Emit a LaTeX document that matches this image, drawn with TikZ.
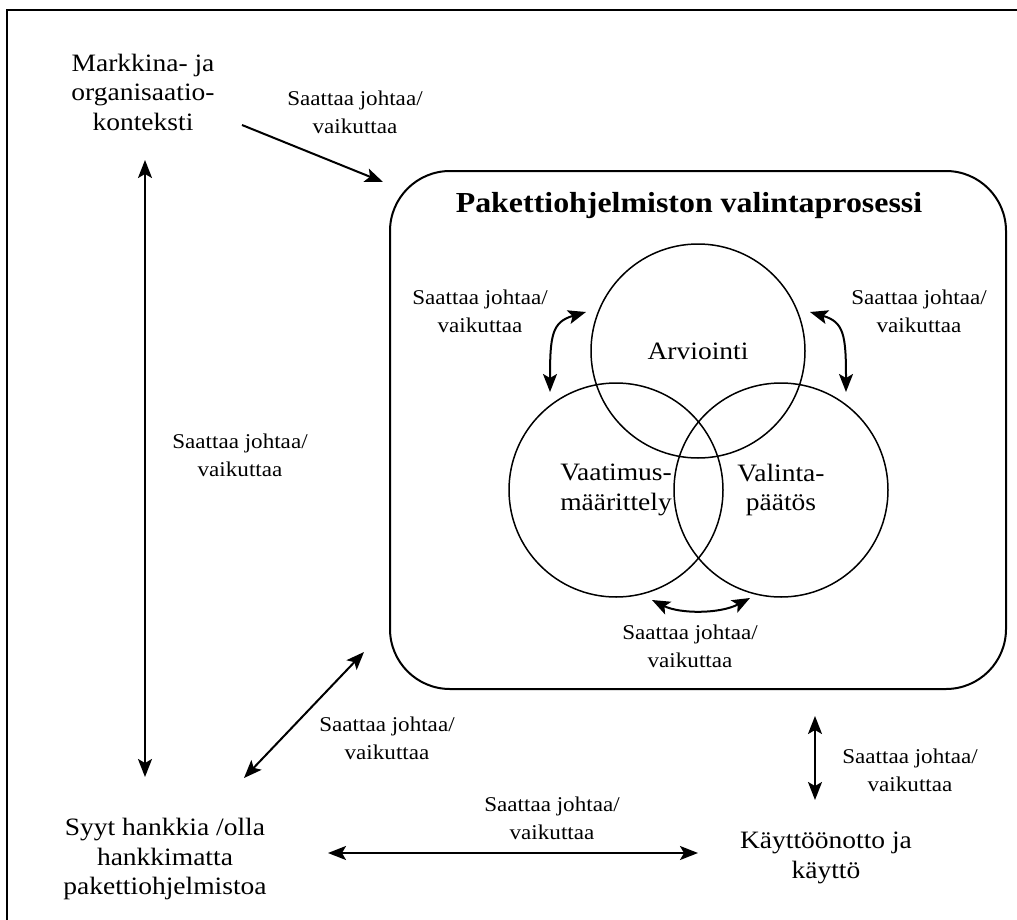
\documentclass[tikz,border=0pt]{standalone}
\usepackage{fontspec}
\setmainfont{Liberation Serif}[FakeStretch=1.1]
\usetikzlibrary{arrows.meta}

\begin{document}
\begin{tikzpicture}[x=0.5pt, y=-0.5pt,
    >={Stealth[length=9pt,width=7pt,inset=2pt]},
    conn/.style={line width=1pt},
    txt/.style={align=center, font=\fontsize{12.5}{14.75}\selectfont},
    lbl/.style={align=center, font=\fontsize{10.5}{14}\selectfont},
    phase/.style={circle, draw, line width=0.75pt, minimum size=107pt, inner sep=0pt, align=center, font=\fontsize{12.5}{14.75}\selectfont}]
    \useasboundingbox (0,0) rectangle (1017,920);
    \draw [line width=0.8pt] (7,930) -- (7,10) -- (1030,10);

    % valintaprosessi
    \node (proc) [draw, line width=1pt, rounded corners=30pt, minimum width=308pt, minimum height=259pt] at (698,430) {};
    \node (title) [anchor=base, font=\fontsize{14.5}{16}\selectfont\bfseries] at (689,212) {Pakettiohjelmiston valintaprosessi};
    \node (arv) [phase] at (698,351) {Arviointi};
    \node (vaat) [phase] at (616,490) {Vaatimus-\\määrittely};
    \node (vali) [phase] at (781,490) {Valinta-\\päätös};

    % ulkoiset tekijat
    \node (mark) [txt] at (143,92) {Markkina- ja\\organisaatio-\\konteksti};
    \node (syyt) [txt] at (165,859) {Syyt hankkia /olla\\hankkimatta\\pakettiohjelmistoa};
    \node (kaytto) [txt] at (826,858) {Käyttöönotto ja\\käyttö};

    % nuolten paat
    \coordinate (markOut) at (242,125);
    \coordinate (procIn) at (383,182);
    \coordinate (markDown) at (145,160);
    \coordinate (syytUp) at (145,777);
    \coordinate (procLow) at (364,652);
    \coordinate (syytRight) at (244,778);
    \coordinate (procBottom) at (815,716);
    \coordinate (kayttoUp) at (815,800);
    \coordinate (syytEast) at (328,853);
    \coordinate (kayttoWest) at (698,853);
    \coordinate (arvL) at (586,312);
    \coordinate (vaatT) at (550,392);
    \coordinate (arvR) at (810,312);
    \coordinate (valiT) at (846,392);
    \coordinate (vaatB) at (652,600);
    \coordinate (valiB) at (750,598);

    \draw [conn, ->] (markOut) -- (procIn);
    \draw [conn, <->] (markDown) -- (syytUp);
    \draw [conn, <->] (procLow) -- (syytRight);
    \draw [conn, <->] (procBottom) -- (kayttoUp);
    \draw [conn, <->] (syytEast) -- (kayttoWest);
    \draw [conn, <->] (arvL) .. controls (552,322) and (550,335) .. (vaatT);
    \draw [conn, <->] (arvR) .. controls (844,322) and (846,335) .. (valiT);
    \draw [conn, <->] (vaatB) .. controls (680,614) and (720,614) .. (valiB);

    % nuolten tekstit
    \node (lblTop) [lbl] at (355,112) {Saattaa johtaa/\\vaikuttaa};
    \node (lblLeft) [lbl] at (240,455) {Saattaa johtaa/\\vaikuttaa};
    \node (lblArvL) [lbl] at (480,311) {Saattaa johtaa/\\vaikuttaa};
    \node (lblArvR) [lbl] at (919,311) {Saattaa johtaa/\\vaikuttaa};
    \node (lblBottom) [lbl] at (690,646) {Saattaa johtaa/\\vaikuttaa};
    \node (lblDiag) [lbl] at (387,738) {Saattaa johtaa/\\vaikuttaa};
    \node (lblKaytto) [lbl] at (910,770) {Saattaa johtaa/\\vaikuttaa};
    \node (lblSyyt) [lbl] at (552,818) {Saattaa johtaa/\\vaikuttaa};
\end{tikzpicture}
\end{document}
